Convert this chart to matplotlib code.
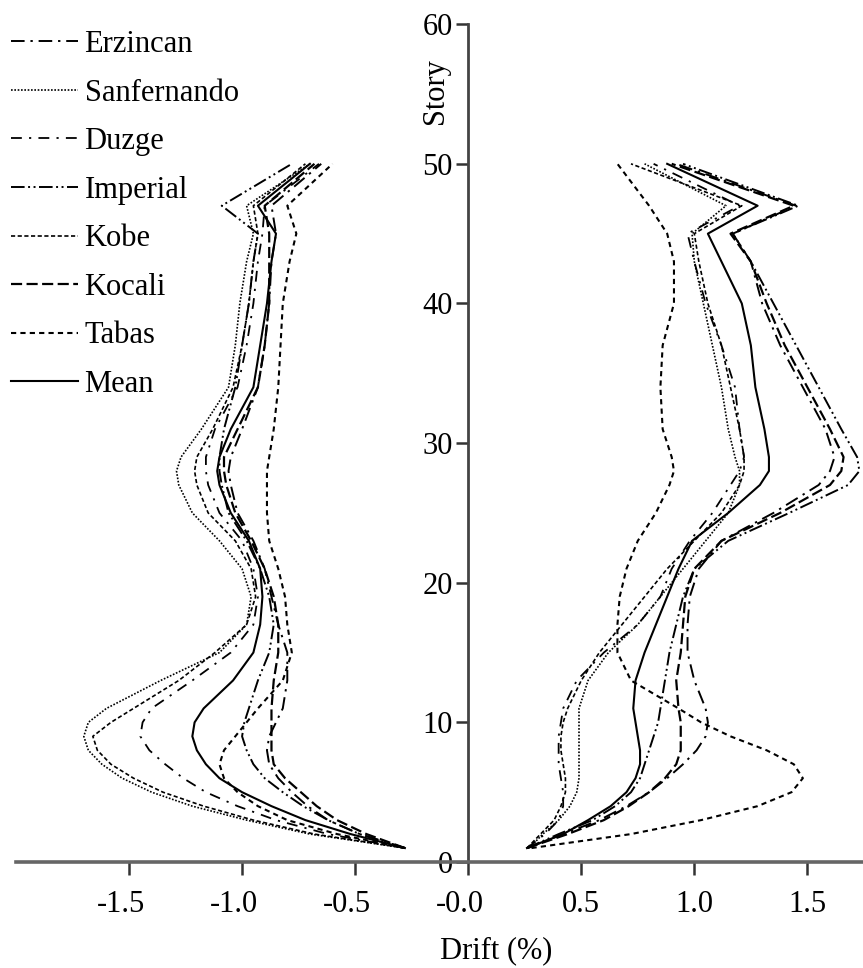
import numpy as np
import matplotlib
matplotlib.use("Agg")
import matplotlib.pyplot as plt
from matplotlib.transforms import ScaledTranslation

plt.rcParams['font.family'] = ['Liberation Serif', 'DejaVu Serif']
plt.rcParams['axes.unicode_minus'] = False

# --- Data ---
stories = [1, 2, 3, 4, 5, 6, 7, 8, 9, 10, 11, 13, 15, 17, 19, 21, 23, 25, 27, 28, 29, 31, 34, 37, 40, 43, 45, 47, 50]

records = ["Erzincan", "Sanfernando", "Duzge", "Imperial", "Kobe", "Kocali", "Tabas", "Mean"]

# positive drift
erzincan_pos = [0.26, 0.42, 0.58, 0.70, 0.80, 0.88, 0.95, 1.01, 1.05, 1.06, 1.05, 1.00, 0.97, 0.97, 0.98, 1.02, 1.12, 1.35, 1.55, 1.60, 1.62, 1.58, 1.48, 1.38, 1.30, 1.25, 1.17, 1.45, 0.92]
sanfernando_pos = [0.27, 0.33, 0.40, 0.45, 0.48, 0.49, 0.49, 0.49, 0.49, 0.49, 0.49, 0.53, 0.62, 0.75, 0.85, 0.95, 1.05, 1.15, 1.20, 1.20, 1.18, 1.15, 1.12, 1.08, 1.04, 1.00, 0.99, 1.14, 0.78]
duzge_pos = [0.26, 0.34, 0.40, 0.42, 0.42, 0.41, 0.40, 0.40, 0.40, 0.41, 0.42, 0.48, 0.60, 0.75, 0.85, 0.90, 0.98, 1.08, 1.16, 1.20, 1.22, 1.20, 1.18, 1.12, 1.05, 1.00, 0.97, 1.20, 0.82]
imperial_pos = [0.26, 0.40, 0.55, 0.65, 0.72, 0.76, 0.78, 0.80, 0.82, 0.84, 0.85, 0.87, 0.89, 0.92, 0.95, 1.00, 1.15, 1.42, 1.68, 1.73, 1.72, 1.65, 1.55, 1.45, 1.35, 1.25, 1.17, 1.46, 0.95]
kobe_pos = [0.26, 0.32, 0.38, 0.41, 0.43, 0.43, 0.42, 0.41, 0.41, 0.42, 0.44, 0.50, 0.58, 0.68, 0.78, 0.88, 1.00, 1.12, 1.20, 1.22, 1.22, 1.20, 1.16, 1.12, 1.06, 1.02, 1.00, 1.21, 0.72]
kocali_pos = [0.26, 0.44, 0.60, 0.71, 0.80, 0.87, 0.92, 0.94, 0.94, 0.94, 0.93, 0.92, 0.94, 0.95, 0.96, 1.00, 1.12, 1.38, 1.60, 1.65, 1.66, 1.60, 1.50, 1.40, 1.32, 1.25, 1.16, 1.44, 0.90]
tabas_pos = [0.28, 0.72, 1.03, 1.28, 1.43, 1.48, 1.44, 1.32, 1.16, 1.03, 0.93, 0.72, 0.66, 0.66, 0.67, 0.70, 0.75, 0.83, 0.89, 0.91, 0.90, 0.86, 0.85, 0.86, 0.91, 0.91, 0.88, 0.80, 0.66]
mean_pos = [0.26, 0.42, 0.53, 0.63, 0.70, 0.74, 0.76, 0.76, 0.75, 0.74, 0.73, 0.74, 0.78, 0.83, 0.88, 0.93, 0.99, 1.15, 1.29, 1.33, 1.33, 1.31, 1.27, 1.25, 1.21, 1.12, 1.06, 1.28, 0.88]

# negative drift
erzincan_neg = [-0.28, -0.48, -0.62, -0.71, -0.78, -0.84, -0.88, -0.89, -0.88, -0.85, -0.82, -0.80, -0.80, -0.84, -0.87, -0.90, -0.95, -1.02, -1.05, -1.06, -1.05, -1.00, -0.93, -0.90, -0.88, -0.87, -0.85, -0.87, -0.65]
sanfernando_neg = [-0.28, -0.70, -0.98, -1.22, -1.40, -1.53, -1.62, -1.68, -1.70, -1.68, -1.60, -1.36, -1.10, -0.98, -0.96, -1.00, -1.10, -1.22, -1.28, -1.29, -1.27, -1.18, -1.06, -1.03, -1.01, -0.98, -0.95, -0.98, -0.70]
duzge_neg = [-0.28, -0.62, -0.85, -1.02, -1.16, -1.26, -1.34, -1.41, -1.45, -1.44, -1.40, -1.22, -1.05, -0.95, -0.93, -0.95, -1.00, -1.10, -1.15, -1.16, -1.16, -1.12, -1.02, -0.98, -0.95, -0.93, -0.91, -0.90, -0.66]
imperial_neg = [-0.28, -0.48, -0.62, -0.73, -0.82, -0.90, -0.95, -0.98, -1.00, -0.99, -0.97, -0.93, -0.88, -0.86, -0.88, -0.92, -0.98, -1.06, -1.09, -1.10, -1.10, -1.08, -1.03, -1.00, -0.97, -0.95, -0.93, -1.09, -0.78]
kobe_neg = [-0.28, -0.68, -0.95, -1.17, -1.35, -1.48, -1.58, -1.64, -1.66, -1.58, -1.48, -1.28, -1.12, -0.98, -0.94, -0.96, -1.03, -1.15, -1.20, -1.21, -1.20, -1.13, -1.04, -1.00, -0.97, -0.95, -0.93, -0.95, -0.72]
kocali_neg = [-0.28, -0.45, -0.58, -0.67, -0.74, -0.81, -0.86, -0.87, -0.87, -0.87, -0.87, -0.86, -0.84, -0.84, -0.86, -0.90, -0.96, -1.03, -1.07, -1.08, -1.08, -1.02, -0.93, -0.90, -0.88, -0.88, -0.88, -0.90, -0.68]
tabas_neg = [-0.28, -0.58, -0.80, -0.93, -1.02, -1.08, -1.10, -1.08, -1.03, -0.98, -0.93, -0.82, -0.78, -0.80, -0.81, -0.84, -0.88, -0.89, -0.89, -0.89, -0.88, -0.86, -0.84, -0.83, -0.82, -0.79, -0.76, -0.80, -0.60]
mean_neg = [-0.28, -0.52, -0.72, -0.87, -1.00, -1.10, -1.16, -1.20, -1.22, -1.21, -1.17, -1.04, -0.95, -0.92, -0.91, -0.92, -0.97, -1.05, -1.10, -1.11, -1.10, -1.05, -0.95, -0.92, -0.89, -0.87, -0.85, -0.93, -0.70]

x_ticks = [-1.5, -1.0, -0.5, 0.0, 0.5, 1.0, 1.5]
x_ticklabels = ["-1.5", "-1.0", "-0.5", "-0.0", "0.5", "1.0", "1.5"]
y_ticks = [0, 10, 20, 30, 40, 50, 60]

pos_series = [erzincan_pos, sanfernando_pos, duzge_pos, imperial_pos, kobe_pos, kocali_pos, tabas_pos, mean_pos]
neg_series = [erzincan_neg, sanfernando_neg, duzge_neg, imperial_neg, kobe_neg, kocali_neg, tabas_neg, mean_neg]

# line styles per record
styles = {
    "Erzincan":    dict(ls=(0, (7, 3, 1.2, 3)), lw=1.4),
    "Sanfernando": dict(ls=(0, (1, 1)), lw=1.2),
    "Duzge":       dict(ls=(0, (6, 4, 1.2, 4)), lw=1.3),
    "Imperial":    dict(ls=(0, (7, 1.8, 1, 1.8, 1, 1.8)), lw=1.4),
    "Kobe":        dict(ls=(0, (2.5, 1.5)), lw=1.2),
    "Kocali":      dict(ls=(0, (5, 2)), lw=1.6),
    "Tabas":       dict(ls=(0, (2.5, 2)), lw=1.5),
    "Mean":        dict(ls='-', lw=1.5),
}

FS = 22

fig = plt.figure(figsize=(8.63, 9.68), dpi=100)
ax = fig.add_axes([0.0185, 0.1095, 0.9815, 0.8655])

for name, pos, neg in zip(records, pos_series, neg_series):
    st = styles[name]
    ax.plot(neg, stories, color='black', linestyle=st['ls'], linewidth=st['lw'], label=name)
    ax.plot(pos, stories, color='black', linestyle=st['ls'], linewidth=st['lw'])

ax.set_xlim(-2.0, 1.746)
ax.set_ylim(0, 60)

for s in ['top', 'right']:
    ax.spines[s].set_visible(False)
ax.spines['left'].set_position(('data', 0))
ax.spines['left'].set_color('#444444')
ax.spines['left'].set_linewidth(2.0)
ax.spines['bottom'].set_color('#666666')
ax.spines['bottom'].set_linewidth(2.6)

ax.set_xticks(x_ticks)
ax.set_xticklabels(x_ticklabels)
ax.set_yticks(y_ticks)
ax.tick_params(axis='x', direction='out', length=9, width=1.8, pad=11, labelsize=FS, color='#333333')
ax.tick_params(axis='y', direction='out', length=9, width=1.8, pad=2, labelsize=FS, color='#333333')

# negative labels sit a little left of their ticks in the original
shift = ScaledTranslation(-6 / 72, 0, fig.dpi_scale_trans)
for lab in ax.get_xticklabels()[:4]:
    lab.set_transform(lab.get_transform() + shift)

ax.set_xlabel("Drift (%)", fontsize=FS)
ax.xaxis.set_label_coords(0.567, -0.089)
ax.set_ylabel("Story", fontsize=FS)
ax.yaxis.set_label_coords(0.512, 0.920)

ax.legend(loc='upper left', bbox_to_anchor=(0.013, 0.969), bbox_transform=fig.transFigure,
          frameon=False, fontsize=FS, handlelength=2.2, handletextpad=0.2,
          labelspacing=0.64, borderpad=0, borderaxespad=0)

fig.savefig("out.png", dpi=100)
